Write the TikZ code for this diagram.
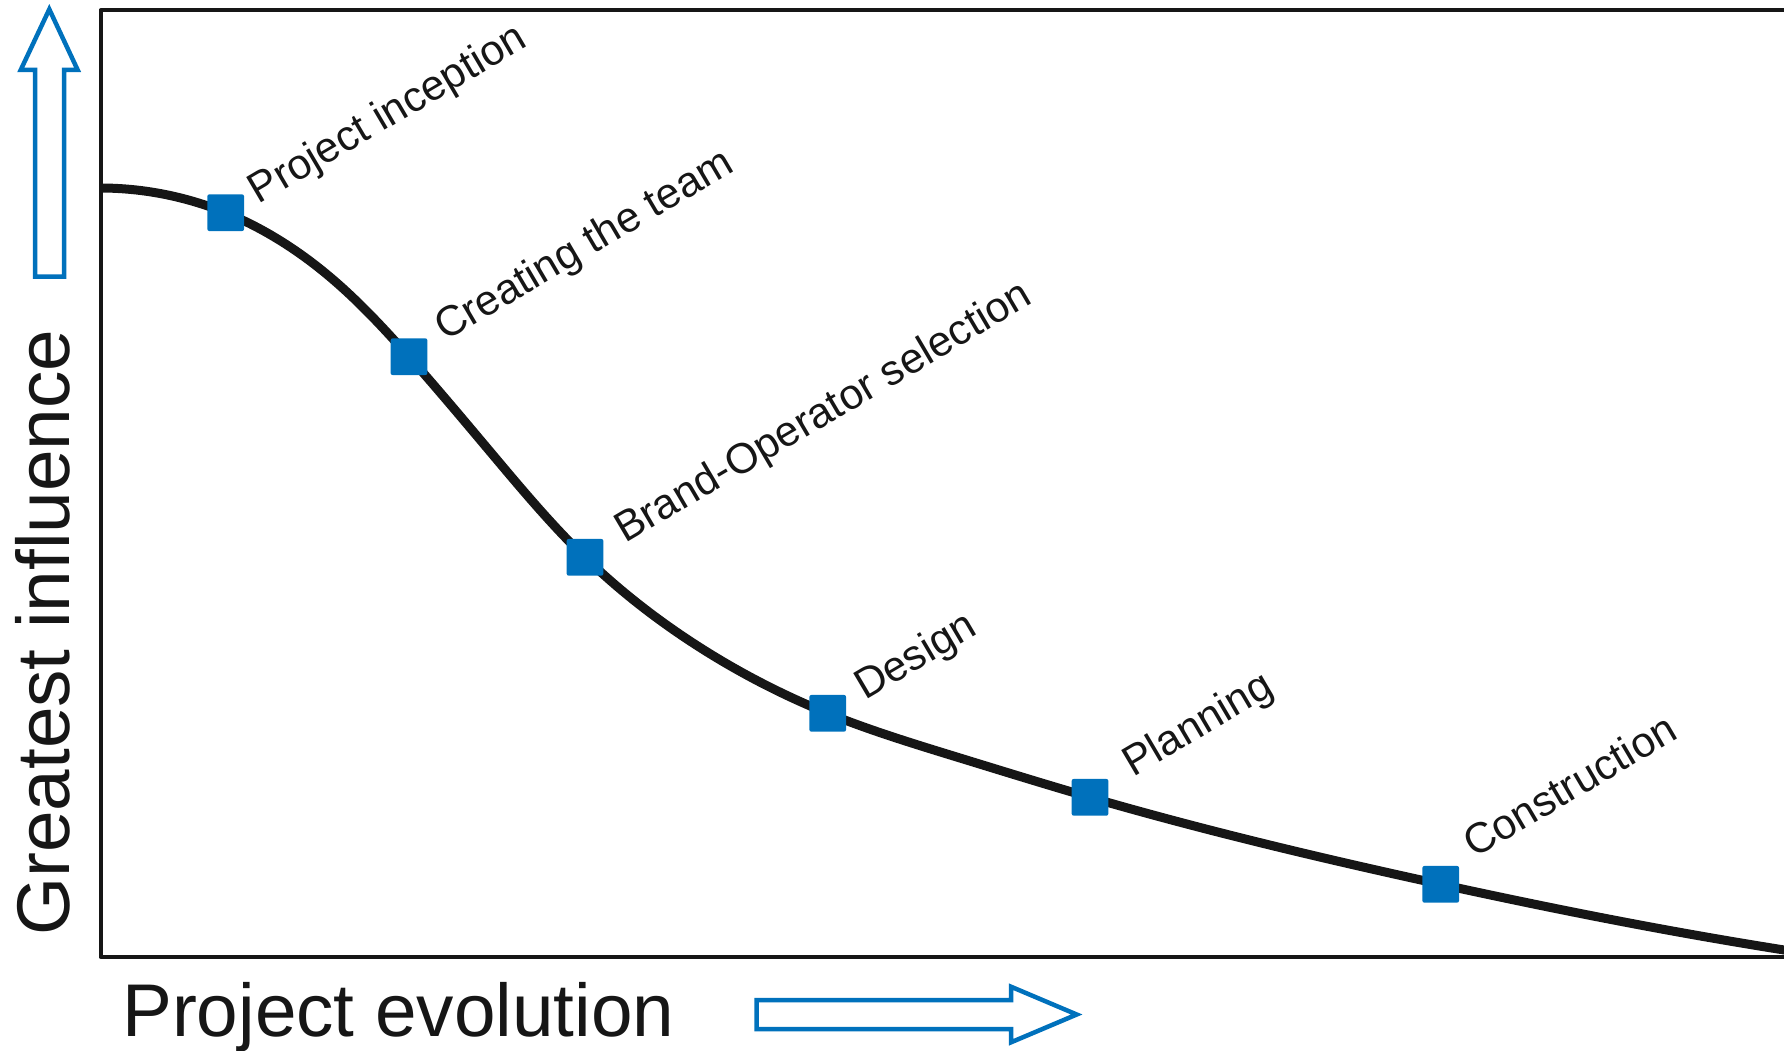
\documentclass[tikz,border=0pt]{standalone}
\usepackage{fontspec}
\setmainfont{Liberation Sans}
\usetikzlibrary{hobby}
\definecolor{myblue}{RGB}{0,113,188}
\definecolor{ink}{RGB}{22,22,22}
\begin{document}
\begin{tikzpicture}[x=1pt,y=-1pt,
  marker/.style={rectangle, fill=myblue, minimum size=36.7pt, inner sep=0pt, rounded corners=2pt},
  steplabel/.style={rotate=30.5, anchor=base west, inner sep=0pt, font=\fontsize{42.5}{50}\selectfont, text=ink},
  axislabel/.style={inner sep=0pt, font=\fontsize{74.7}{88}\selectfont, text=ink},
  hollowarrow/.style={draw=myblue, line width=4.5pt, fill=white, miter limit=10},
  frame/.style={draw=ink, line width=4pt, line join=round},
  curveline/.style={draw=ink, line width=9pt}]
\useasboundingbox (0,0) rectangle (1784,1051);
\clip (0,0) rectangle (1784,1051);

% frame
\draw[frame] (1800,10.5) -- (100.5,10.5) -- (100.5,957) -- (1800,957);

% curve coordinates
\coordinate (c0) at (100,188);
\coordinate (p1) at (225.7,212.7);
\coordinate (c3) at (330,277);
\coordinate (p2) at (409,356.7);
\coordinate (c5) at (498,461);
\coordinate (p3) at (585,557.3);
\coordinate (c8) at (693,643);
\coordinate (p4) at (827.7,713.3);
\coordinate (c11) at (960,758);
\coordinate (p5) at (1090,797.3);
\coordinate (p6) at (1440.7,884.3);
\coordinate (c14) at (1667,930);
\coordinate (c15) at (1800,952.5);

\draw[curveline, use Hobby shortcut] ([out angle=0]c0) .. (p1) .. (c3) .. (p2) .. (c5) .. (p3) .. (c8) .. (p4) .. (c11) .. (p5) .. (p6) .. (c14) .. (c15);

% markers
\node[marker] (inception) at (p1) {};
\node[marker] (team) at (p2) {};
\node[marker] (brand) at (p3) {};
\node[marker] (design) at (p4) {};
\node[marker] (planning) at (p5) {};
\node[marker] (construction) at (p6) {};

% step labels
\node[steplabel] (linception) at (258.5,205) {Project inception};
\node[steplabel] (lteam) at (445,342) {Creating the team};
\node[steplabel] (lbrand) at (625,544) {Brand-Operator selection};
\node[steplabel] (ldesign) at (865,701) {Design};
\node[steplabel] (lplanning) at (1133,778) {Planning};
\node[steplabel] (lconstruction) at (1474,859) {Construction};

% axis labels
\node[axislabel, rotate=90, anchor=base west] (yaxis) at (69,936) {Greatest influence};
\node[axislabel, anchor=base west] (xaxis) at (122,1036.5) {Project evolution};

% hollow arrows
\draw[hollowarrow] (35,276.7) -- (35,70) -- (20.7,70) -- (49.3,9.3) -- (77.7,70) -- (64,70) -- (64,276.7) -- cycle;
\draw[hollowarrow] (756.7,1000) -- (1011,1000) -- (1011,986.7) -- (1076.7,1014.5) -- (1011,1042.3) -- (1011,1029.2) -- (756.7,1029.2) -- cycle;
\end{tikzpicture}
\end{document}
